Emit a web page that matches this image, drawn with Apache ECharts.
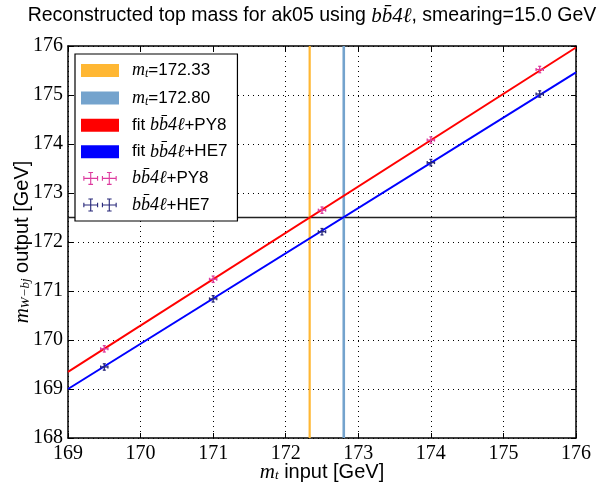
<!DOCTYPE html>
<html><head><meta charset="utf-8">
<script src="https://cdn.jsdelivr.net/npm/echarts@6/dist/echarts.min.js"></script>
<style>html,body{margin:0;padding:0;background:#fff}#c{width:609px;height:483px}</style>
</head><body><div id="c"></div><script>
// ---- data ----
const massInput = [169.5, 171.0, 172.5, 174.0, 175.5];
const outPY8 = [169.82, 171.24, 172.65, 174.08, 175.52];
const outHE7 = [169.45, 170.84, 172.21, 173.62, 175.02];
const errX = [0.05, 0.05, 0.05, 0.05, 0.05];
const errYPY8 = [0.065, 0.065, 0.065, 0.065, 0.065];
const errYHE7 = [0.065, 0.065, 0.065, 0.065, 0.065];
const fitX = [169, 176];
const fitPY8 = [169.35, 175.97];
const fitHE7 = [169.0, 175.46];
const refMass = [172.33, 172.80];
const refOutput = 172.5;
const xRange = [169, 176];
const yRange = [168, 176];

const C_OR = '#ffb733', C_LB = '#74a3cd', C_RED = '#ff0000', C_BLUE = '#0000ff';
const C_PK = '#dd3b9e', C_NV = '#28287a';
const serif = 'Liberation Serif', sans = 'Liberation Sans';

const rich = {
  m: {fontFamily: serif, fontStyle: 'italic', fontSize: 18, color: '#000', lineHeight: 17},
  s: {fontFamily: serif, fontStyle: 'italic', fontSize: 12, color: '#000', lineHeight: 17, padding: [7, 0, 0, 0]},
  t: {fontFamily: sans, fontSize: 17, color: '#000', lineHeight: 17}
};
const richBig = {
  m: {fontFamily: serif, fontStyle: 'italic', fontSize: 21, fill: '#000', color: '#000'},
  s: {fontFamily: serif, fontStyle: 'italic', fontSize: 13, fill: '#000', color: '#000', padding: [8, 0, 0, 0]},
  t: {fontFamily: sans, fontSize: 20, fill: '#000', color: '#000'}
};
const bb = 'bb\u03044\u2113';

function errRender(color) {
  return function (params, api) {
    const x = api.value(0), y = api.value(1), ex = api.value(2), ey = api.value(3);
    const l = api.coord([x - ex, y]), r = api.coord([x + ex, y]);
    const t = api.coord([x, y + ey]), b = api.coord([x, y - ey]);
    const st = {stroke: color, lineWidth: 1.3};
    const cap = 1.5;
    const ln = (x1, y1, x2, y2) => ({type: 'line', shape: {x1, y1, x2, y2}, style: st});
    return {type: 'group', children: [
      ln(l[0], l[1], r[0], r[1]), ln(t[0], t[1], b[0], b[1]),
      ln(l[0], l[1] - cap, l[0], l[1] + cap), ln(r[0], r[1] - cap, r[0], r[1] + cap),
      ln(t[0] - cap, t[1], t[0] + cap, t[1]), ln(b[0] - cap, b[1], b[0] + cap, b[1])
    ]};
  };
}
function crossPath(cx) {
  const cy = 7.5, w = 8, h = 7, k = 0.6, c = 2.5;
  return `M${cx - w} ${cy - k}h${2 * w}v${2 * k}h${-2 * w}Z` +
    `M${cx - k} ${cy - h}h${2 * k}v${2 * h}h${-2 * k}Z` +
    `M${cx - w} ${cy - c}h${2 * k}v${2 * c}h${-2 * k}Z` +
    `M${cx + w - 2 * k} ${cy - c}h${2 * k}v${2 * c}h${-2 * k}Z` +
    `M${cx - c} ${cy - h}h${2 * c}v${2 * k}h${-2 * c}Z` +
    `M${cx - c} ${cy + h - 2 * k}h${2 * c}v${2 * k}h${-2 * c}Z`;
}
const crossIcon = 'path://' + crossPath(9) + crossPath(29);

const labels = {
  mt1: '{m|m}{s|t}{t|=172.33}',
  mt2: '{m|m}{s|t}{t|=172.80}',
  fitPY8: '{t|fit }{m|' + bb + '}{t|+PY8}',
  fitHE7: '{t|fit }{m|' + bb + '}{t|+HE7}',
  PY8: '{m|' + bb + '}{t|+PY8}',
  HE7: '{m|' + bb + '}{t|+HE7}'
};

const chart = echarts.init(document.getElementById('c'), null, {renderer: 'canvas'});
const gridLine = {show: true, lineStyle: {color: '#000', type: [1, 4], width: 1}};
chart.setOption({
  animation: false,
  backgroundColor: '#fff',
  grid: {left: 68, right: 33, top: 46, bottom: 45, containLabel: false},
  graphic: [
    {type: 'text', x: 312, y: 16, silent: true,
      style: {text: '{t|Reconstructed top mass for ak05 using }{m|' + bb + '}{t|, smearing=15.0 GeV}',
        rich: {t: {fontFamily: sans, fontSize: 19.5, fill: '#000'},
          m: {fontFamily: serif, fontStyle: 'italic', fontSize: 21, fill: '#000'}},
        align: 'center', verticalAlign: 'middle'}},
    {type: 'text', x: 322, y: 472, silent: true,
      style: {text: '{m|m}{s|t}{t| input [GeV]}', rich: richBig, align: 'center', verticalAlign: 'middle'}},
    {type: 'text', x: 22, y: 242, rotation: Math.PI / 2, silent: true,
      style: {text: '{m|m}{s|W\u2212bj}{t| output [GeV]}', rich: richBig, align: 'center', verticalAlign: 'middle'}}
  ],
  legend: {
    orient: 'vertical', left: 75, top: 54, padding: [7, 10, 7, 6],
    borderColor: '#000', borderWidth: 1.2, backgroundColor: '#fff',
    itemWidth: 38, itemHeight: 13, itemGap: 8.6,
    formatter: n => labels[n],
    textStyle: {padding: [0, 0, 0, 8], lineHeight: 17, rich: rich},
    data: [
      {name: 'mt1', icon: 'rect', itemStyle: {color: C_OR, borderWidth: 0}},
      {name: 'mt2', icon: 'rect', itemStyle: {color: C_LB, borderWidth: 0}},
      {name: 'fitPY8', icon: 'rect', itemStyle: {color: C_RED, borderWidth: 0}},
      {name: 'fitHE7', icon: 'rect', itemStyle: {color: C_BLUE, borderWidth: 0}},
      {name: 'PY8', icon: crossIcon, itemStyle: {color: C_PK, borderWidth: 0}},
      {name: 'HE7', icon: crossIcon, itemStyle: {color: C_NV, borderWidth: 0}}
    ]
  },
  xAxis: [{
    type: 'value', min: xRange[0], max: xRange[1], interval: 1,
    axisLine: {show: true, onZero: false, lineStyle: {color: '#000', width: 1.5}},
    axisTick: {show: true, inside: true, length: 5, lineStyle: {color: '#000'}},
    axisLabel: {fontFamily: serif, fontSize: 20, color: '#000', margin: 6},
    splitLine: gridLine
  }, {
    type: 'value', position: 'top', min: xRange[0], max: xRange[1], interval: 1,
    axisLine: {show: true, onZero: false, lineStyle: {color: '#000', width: 1.5}},
    axisTick: {show: true, inside: true, length: 5, lineStyle: {color: '#000'}},
    axisLabel: {show: false}, splitLine: {show: false}
  }],
  yAxis: [{
    type: 'value', min: yRange[0], max: yRange[1], interval: 1,
    axisLine: {show: true, onZero: false, lineStyle: {color: '#000', width: 1.5}},
    axisTick: {show: true, inside: true, length: 5, lineStyle: {color: '#000'}},
    axisLabel: {fontFamily: serif, fontSize: 20, color: '#000', margin: 5},
    splitLine: gridLine
  }, {
    type: 'value', position: 'right', min: yRange[0], max: yRange[1], interval: 1,
    axisLine: {show: true, onZero: false, lineStyle: {color: '#000', width: 1.5}},
    axisTick: {show: true, inside: true, length: 5, lineStyle: {color: '#000'}},
    axisLabel: {show: false}, splitLine: {show: false}
  }],
  series: [
    {name: 'hline', type: 'line', silent: true, symbol: 'none',
      data: [[xRange[0], refOutput], [xRange[1], refOutput]],
      lineStyle: {color: '#222', width: 1.3}, z: 2},
    {name: 'mt1', type: 'line', symbol: 'none', color: C_OR,
      data: [[refMass[0], yRange[0]], [refMass[0], yRange[1]]],
      lineStyle: {color: C_OR, width: 2.2}, z: 3},
    {name: 'mt2', type: 'line', symbol: 'none', color: C_LB,
      data: [[refMass[1], yRange[0]], [refMass[1], yRange[1]]],
      lineStyle: {color: C_LB, width: 2.6}, z: 3},
    {name: 'fitPY8', type: 'line', symbol: 'none', color: C_RED,
      data: fitX.map((x, i) => [x, fitPY8[i]]),
      lineStyle: {color: C_RED, width: 2}, z: 4},
    {name: 'fitHE7', type: 'line', symbol: 'none', color: C_BLUE,
      data: fitX.map((x, i) => [x, fitHE7[i]]),
      lineStyle: {color: C_BLUE, width: 2}, z: 4},
    {name: 'PY8', type: 'custom', color: C_PK, itemStyle: {color: C_PK},
      renderItem: errRender(C_PK),
      data: massInput.map((x, i) => [x, outPY8[i], errX[i], errYPY8[i]]), z: 5},
    {name: 'HE7', type: 'custom', color: C_NV, itemStyle: {color: C_NV},
      renderItem: errRender(C_NV),
      data: massInput.map((x, i) => [x, outHE7[i], errX[i], errYHE7[i]]), z: 5}
  ]
});
</script></body></html>
